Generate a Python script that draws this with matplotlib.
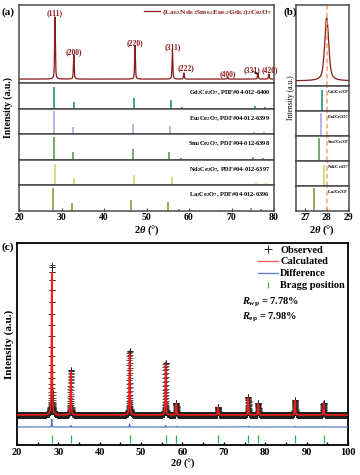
import numpy as np
import matplotlib
matplotlib.use("Agg")
import matplotlib.pyplot as plt
from matplotlib.lines import Line2D

plt.rcParams['font.family'] = ['Liberation Serif', 'DejaVu Serif']
plt.rcParams['font.weight'] = 'bold'
plt.rcParams['axes.labelweight'] = 'bold'
plt.rcParams['mathtext.fontset'] = 'custom'
plt.rcParams['mathtext.rm'] = 'Liberation Serif:bold'
plt.rcParams['mathtext.it'] = 'Liberation Serif:italic:bold'
plt.rcParams['mathtext.bf'] = 'Liberation Serif:bold'

# ---------------- data ----------------
# (a) measured HEO pattern
A_HKL = ["(111)", "(200)", "(220)", "(311)", "(222)", "(400)", "(331)", "(420)"]
A_POS = [28.47, 32.9, 47.3, 56.1, 58.8, 69.1, 76.2, 78.8]
A_INT = [100, 39, 53, 46.5, 9.8, 3.4, 9.8, 8.2]
A_FWHM = 0.22

# (a) reference PDF cards
REF_FORMULA = ["Gd$_2$Ce$_2$O$_7$", "Eu$_2$Ce$_2$O$_7$", "Sm$_2$Ce$_2$O$_7$",
               "Nd$_2$Ce$_2$O$_7$", "La$_2$Ce$_2$O$_7$"]
REF_PDF = ["PDF#04-012-6400", "PDF#04-012-6399", "PDF#04-012-6398",
           "PDF#04-012-6397", "PDF#04-012-6396"]
GD_POS = [28.3, 32.9, 47.0, 55.8, 58.4, 68.5, 75.5, 77.9]
EU_POS = [28.3, 32.8, 46.9, 55.5, 58.1, 68.3, 75.4, 77.6]
SM_POS = [28.2, 32.7, 46.75, 55.4, 58.0, 68.1, 75.1, 77.5]
ND_POS = [28.5, 32.9, 47.1, 55.9, 58.7, 68.7, 75.8, 78.1]
LA_POS = [28.0, 32.4, 46.4, 55.1, 57.6, 67.5, 74.5, 76.9]
GD_INT = [83, 27, 40, 34, 6, 4, 10, 7]
EU_INT = [91, 26, 39, 31, 6, 4, 10, 7]
SM_INT = [90, 28, 40, 30, 6, 4, 10, 7]
ND_INT = [84, 29, 40, 33, 6, 4, 10, 7]
LA_INT = [90, 30, 43, 34, 6, 4, 10, 7]
REF_POS = [GD_POS, EU_POS, SM_POS, ND_POS, LA_POS]
REF_INT = [GD_INT, EU_INT, SM_INT, ND_INT, LA_INT]

# (b) zoom on (111)
B_PEAK_POS = 28.0
B_PEAK_INT = 100
B_FWHM = 0.22
B_DASH = 28.0
B_REF_POS = [27.79, 27.73, 27.65, 27.89, 27.42]
B_REF_FORMULA = REF_FORMULA

# (c) Rietveld refinement
C_POS = [28.4, 33.0, 47.2, 55.9, 58.5, 68.6, 75.9, 78.3, 87.2, 94.1]
C_OBS = [100, 30, 43, 35, 8, 5.5, 12, 8, 10, 8]
C_CALC = [95, 29, 41, 34, 7.6, 5.3, 11.5, 7.7, 9.6, 7.7]
C_FWHM = 0.2
C_STEP = 0.012
R_WP = 7.78
R_EP = 7.98
DIFF_OFFSET = -8
BRAGG_LEVEL = -15.7

# ---------------- helpers ----------------
def pv(x, pos, hts, fwhm, eta=0.55):
    y = np.zeros_like(x)
    for p, h in zip(pos, hts):
        d2 = 4 * (x - p) ** 2 / fwhm ** 2
        y += h * (eta / (1 + d2) + (1 - eta) * np.exp(-np.log(2) * d2))
    return y

W, H = 360, 475
fig = plt.figure(figsize=(W / 100, H / 100), dpi=100)

def rect(l, t, r, b):
    return [l / W, 1 - b / H, (r - l) / W, (b - t) / H]

SPINE = '#4a4a4a'
def style_box(ax, lw=1.1, color=SPINE):
    for s in ax.spines.values():
        s.set_linewidth(lw)
        s.set_color(color)

DARKRED = '#8b1a1a'
REF_COLORS = ['#238f8c', '#a9a9e6', '#5a9e4c', '#cdd966', '#94944a']

# ---------------- panel (a) ----------------
aL, aR, aT, aSep, aB = 19, 274, 5, 83, 210.7
axA = fig.add_axes(rect(aL, aT, aR, aSep))
xa = np.arange(20, 80.001, 0.01)
ya = pv(xa, A_POS, A_INT, A_FWHM)
line_a, = axA.plot(xa, ya, color=DARKRED, lw=0.9)
axA.set_xlim(20, 80)
axA.set_ylim(-6.3, 119.3)
axA.set_xticks([]); axA.set_yticks([])
style_box(axA)
label_y = [0.90, 0.40, 0.51, 0.46, 0.19, 0.115, 0.165, 0.17]
label_dx = [0, 0, 0, 0, 0.4, 0, -1.4, 0.2]
for hkl, p, ly, dx in zip(A_HKL, A_POS, label_y, label_dx):
    if hkl == "(331)":
        axA.annotate(hkl, xy=(p - 0.1, 0.11), xycoords=('data', 'axes fraction'),
                     xytext=(p + dx, ly), textcoords=('data', 'axes fraction'),
                     ha='center', va='center', fontsize=5.5, color=DARKRED,
                     arrowprops=dict(arrowstyle='-|>', color='black', lw=0.5,
                                     mutation_scale=3, shrinkA=1, shrinkB=0))
    else:
        axA.text(p + dx, ly, hkl, transform=axA.get_xaxis_transform(),
                 ha='center', va='center', fontsize=5.5, color=DARKRED)
axA.legend([line_a],
           [r"(La$_{0.2}$Nd$_{0.2}$Sm$_{0.2}$Eu$_{0.2}$Gd$_{0.2}$)$_2$Ce$_2$O$_7$"],
           loc='upper right', bbox_to_anchor=(1.01, 1.03), frameon=False,
           fontsize=5.3, handlelength=2.2, handletextpad=0.3, labelcolor=DARKRED,
           borderaxespad=0.2)

subh = (aB - aSep) / 5
for i in range(5):
    t = aSep + i * subh
    ax = fig.add_axes(rect(aL, t, aR, t + subh))
    ax.vlines(REF_POS[i], 0, REF_INT[i], color=REF_COLORS[i], lw=1.2)
    ax.set_xlim(20, 80)
    ax.set_ylim(0, 100)
    ax.set_yticks([])
    style_box(ax)
    ax.text(0.985, 0.62, REF_FORMULA[i] + ", " + REF_PDF[i], transform=ax.transAxes,
            ha='right', va='center', fontsize=4.6)
    if i < 4:
        ax.set_xticks([])
    else:
        ax.set_xticks(np.arange(20, 81, 10))
        ax.tick_params(axis='x', direction='in', length=2, width=0.8,
                       labelsize=7, pad=2, color=SPINE)
        ax.set_xlabel(r"$\mathit{2\theta}$ (°)", fontsize=7.5, labelpad=1)

fig.text(8 / W, 1 - 108 / H, "Intensity (a.u.)", rotation=90, ha='center',
         va='center', fontsize=7, fontweight='bold')
fig.text(1 / W, 1 - 12 / H, "(a)", ha='left', va='center', fontsize=8,
         fontweight='bold')

# ---------------- panel (b) ----------------
bL, bR, bT, bSep, bB = 295.7, 349, 5, 85.7, 210.7
axB = fig.add_axes(rect(bL, bT, bR, bSep))
xb = np.arange(26.5, 29.1, 0.005)
yb = pv(xb, [B_PEAK_POS], [B_PEAK_INT], B_FWHM)
axB.plot(xb, yb, color=DARKRED, lw=0.9)
axB.axvline(B_DASH, color='#f4a460', lw=1.1, ls=(0, (3, 2)))
axB.set_xlim(26.57, 29.03)
axB.set_ylim(-7.7, 120.5)
axB.set_xticks([]); axB.set_yticks([])
style_box(axB)
bsub = (bB - bSep) / 5
for i in range(5):
    t = bSep + i * bsub
    ax = fig.add_axes(rect(bL, t, bR, t + bsub))
    ax.vlines([B_REF_POS[i]], 0, [REF_INT[i][0]], color=REF_COLORS[i], lw=1.2)
    ax.axvline(B_DASH, color='#f4a460', lw=1.1, ls=(0, (3, 2)))
    ax.set_xlim(26.57, 29.03)
    ax.set_ylim(0, 100)
    ax.set_yticks([])
    style_box(ax)
    ax.text(0.59, 0.75, B_REF_FORMULA[i], transform=ax.transAxes, ha='left',
            va='center', fontsize=3.3)
    if i < 4:
        ax.set_xticks([])
    else:
        ax.set_xticks([27, 28, 29])
        ax.tick_params(axis='x', direction='in', length=2, width=0.8,
                       labelsize=7, pad=2, color=SPINE)
        ax.set_xlabel(r"$\mathit{2\theta}$ (°)", fontsize=7.5, labelpad=1)
fig.text(291 / W, 1 - 98 / H, "Intensity (a.u.)", rotation=90, ha='center',
         va='center', fontsize=5.5, fontweight='normal')
fig.text(283 / W, 1 - 12 / H, "(b)", ha='left', va='center', fontsize=8,
         fontweight='bold')

# ---------------- panel (c) ----------------
axC = fig.add_axes(rect(17, 243, 348, 445))
xc = np.arange(20, 100.0001, C_STEP)
yobs = pv(xc, C_POS, C_OBS, C_FWHM)
ycalc = pv(xc, C_POS, C_CALC, C_FWHM * 1.02)
axC.plot(xc, yobs, ls='none', marker='+', ms=4.6, mew=0.55, color='#222222',
         zorder=2)
axC.plot(xc, ycalc, color='#ff1a1a', lw=1.1, zorder=3)
axC.plot(xc, yobs - ycalc + DIFF_OFFSET, color='#4a6cc0', lw=0.8, zorder=3)
axC.plot(C_POS, [BRAGG_LEVEL] * len(C_POS), ls='none', marker='|', ms=5.5,
         mew=0.9, color='#3cb44b', zorder=3)
axC.set_xlim(20, 100)
axC.set_ylim(-20, 114.7)
axC.set_yticks([])
axC.set_xticks(np.arange(20, 101, 10))
axC.set_xticks(np.arange(25, 100, 10), minor=True)
axC.tick_params(axis='x', which='both', direction='in', length=2.5, width=1.0,
                labelsize=7.5, pad=2, top=False)
for s in axC.spines.values():
    s.set_linewidth(1.3)
    s.set_color('black')
axC.set_xlabel(r"$\mathit{2\theta}$ (°)", fontsize=7.5, labelpad=0)
axC.set_ylabel("Intensity (a.u.)", fontsize=8, labelpad=2, fontweight='bold')

handles = [Line2D([], [], ls='none', marker='+', ms=6, mew=0.7, color='#222222'),
           Line2D([], [], color='#ff6060', lw=1.0),
           Line2D([], [], color='#6a84cc', lw=1.0),
           Line2D([], [], ls='none', marker='|', ms=5, mew=0.9, color='#3cb44b')]
axC.legend(handles, ["Observed", "Calculated", "Difference", "Bragg position"],
           loc='upper right', bbox_to_anchor=(1.01, 1.02), frameon=False,
           fontsize=7.5, handlelength=1.9, handletextpad=0.2, labelspacing=0.25,
           borderaxespad=0.2)
axC.text(0.68, 0.705, r"$\mathit{R}_{\rm wp}$ = %.2f%%" % R_WP, transform=axC.transAxes,
         ha='left', va='center', fontsize=7.5)
axC.text(0.68, 0.63, r"$\mathit{R}_{\rm ep}$ = %.2f%%" % R_EP, transform=axC.transAxes,
         ha='left', va='center', fontsize=7.5)
fig.text(2 / W, 1 - 247 / H, "(c)", ha='left', va='center', fontsize=8,
         fontweight='bold')

fig.savefig("out.png", dpi=100)
